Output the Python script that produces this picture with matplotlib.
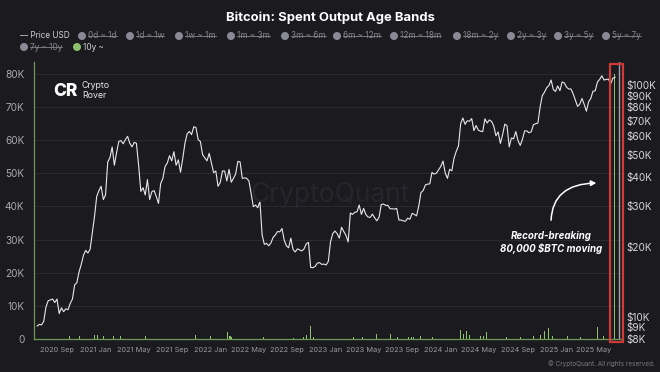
import matplotlib
matplotlib.use("Agg")
import matplotlib.pyplot as plt
from matplotlib.patches import Rectangle, Ellipse, FancyArrowPatch
from matplotlib.lines import Line2D
from matplotlib.ticker import NullLocator
import pandas as pd

plt.rcParams['font.family'] = ['Inter', 'DejaVu Sans']

# ---------------- data ----------------
price_start = "2020-06-29"   # weekly closes
price_usd = [
    9100, 9250, 9200, 9550, 11000, 11700, 11800, 11900, 11500, 11900,
    10300, 10900, 10500, 10800, 10700, 11400, 11900, 13700, 14000, 15600,
    16800, 18400, 19300, 18800, 19500, 23000, 27000,
    # 2021
    33000, 35000, 36500, 32000, 33500, 46500, 48500, 54000, 45000, 51000,
    57000, 57500, 55700, 58000, 60000, 56000, 54000, 56500, 56000, 45000,
    34700, 36000, 33500, 39000, 32000, 34600, 35000, 33000, 30800, 37500,
    39500, 44500, 46000, 49500, 47000, 51500, 45000, 47500, 42000, 48000,
    56000, 61500, 63000, 61000, 66000, 65500, 58000, 57000, 50000, 48500,
    47000, 50700,
    # 2022
    46000, 41800, 42500, 36500, 37900, 42500, 42500, 38500, 43200, 38000,
    39500, 41300, 46800, 46500, 39500, 39700, 39500, 38500, 34000, 29800,
    30300, 29500, 31400, 22500, 20500, 20700, 20200, 20800, 22000, 22500,
    23300, 23200, 24000, 21400, 20200, 19800, 21800, 19500, 19000, 19600,
    19400, 19200, 19600, 20600, 20900, 16300, 16250, 16450, 17000, 17100,
    16800, 16850,
    # 2023
    16700, 17300, 21000, 22800, 23400, 22800, 21800, 24300, 23300, 22400,
    21000, 28000, 27600, 28200, 28300, 30300, 27600, 29300, 27600, 26900,
    26800, 27700, 26700, 25900, 26800, 30500, 30600, 30200, 30200, 29200,
    29200, 29100, 29300, 26100, 26100, 25900, 25800, 26600, 26300, 27900,
    27600, 27200, 30000, 34300, 35000, 37000, 37300, 37400, 41900, 41200,
    41600, 43000,
    # 2024
    44500, 46900, 41700, 39500, 43200, 42600, 48300, 51700, 54500, 68000,
    72000, 67600, 70000, 69700, 71600, 63500, 66800, 63800, 63100, 62900,
    71400, 68500, 70600, 69600, 66500, 60300, 62700, 55900, 60900, 67700,
    66800, 54000, 59000, 58500, 62900, 57500, 54800, 58200, 63300, 63300,
    62100, 62800, 67300, 68000, 68400, 80000, 89900, 93000, 97300, 99400,
    105000, 95500, 93700,
    # 2025
    99000, 94500, 103000, 102000, 97800, 96000, 96100, 91500, 86000, 80800,
    82600, 87400, 82400, 77000, 84500, 87500, 94000, 94300, 103000, 105600,
    109500, 105000, 105600, 106000, 101000, 107000, 108000,
]

spend_dates = [
    "2020-10-11", "2020-11-09", "2020-12-29", "2021-01-05", "2021-01-08",
    "2021-01-24", "2021-02-25", "2021-03-22", "2021-06-09", "2021-11-12",
    "2021-12-30", "2022-02-22", "2022-03-03", "2022-03-09", "2022-06-16",
    "2022-09-19", "2022-10-21", "2022-11-02", "2022-11-12", "2022-11-22",
    "2023-03-29", "2023-04-29", "2023-06-10", "2023-07-24", "2023-08-15",
    "2023-09-19", "2023-09-29", "2023-10-05", "2023-10-27", "2023-12-07",
    "2024-03-02", "2024-03-12", "2024-03-24", "2024-03-31", "2024-05-05",
    "2024-05-14", "2024-05-24", "2024-07-29", "2024-09-09", "2024-10-20",
    "2024-11-11", "2024-11-24", "2024-12-07", "2024-12-22", "2025-02-05",
    "2025-03-18", "2025-05-11", "2025-05-30", "2025-07-04",
]
spend_10y_btc = [
    900, 1000, 1100, 1300, 1200,
    1000, 900, 800, 900, 1100,
    900, 2000, 1000, 700, 500,
    400, 600, 1200, 3800, 600,
    500, 600, 1500, 1400, 600,
    500, 700, 600, 800, 600,
    2600, 1500, 2400, 1300, 800,
    1000, 2200, 700, 600, 1000,
    1300, 2500, 3300, 1000, 800,
    600, 3600, 900, 80000,
]

x_tick_dates = ["2020-09-01", "2021-01-01", "2021-05-01", "2021-09-01",
                "2022-01-01", "2022-05-01", "2022-09-01", "2023-01-01",
                "2023-05-01", "2023-09-01", "2024-01-01", "2024-05-01",
                "2024-09-01", "2025-01-01", "2025-05-01"]
x_tick_labels = ["2020 Sep", "2021 Jan", "2021 May", "2021 Sep", "2022 Jan",
                 "2022 May", "2022 Sep", "2023 Jan", "2023 May", "2023 Sep",
                 "2024 Jan", "2024 May", "2024 Sep", "2025 Jan", "2025 May"]
left_ticks = [0, 10000, 20000, 30000, 40000, 50000, 60000, 70000, 80000]
left_tick_labels = ["0", "10K", "20K", "30K", "40K", "50K", "60K", "70K", "80K"]
right_ticks = [8000, 9000, 10000, 20000, 30000, 40000, 50000, 60000, 70000,
               80000, 90000, 100000]
right_tick_labels = ["$8K", "$9K", "$10K", "$20K", "$30K", "$40K", "$50K",
                     "$60K", "$70K", "$80K", "$90K", "$100K"]

legend_row1 = ["0d ~ 1d", "1d ~ 1w", "1w ~ 1m", "1m ~ 3m", "3m ~ 6m",
               "6m ~ 12m", "12m ~ 18m", "18m ~ 2y", "2y ~ 3y", "3y ~ 5y",
               "5y ~ 7y"]
legend_row2 = ["7y ~ 10y"]
active_label = "10y ~"

# ---------------- layout / style ----------------
BG = "#1a1a1f"
GREEN = "#8cc06c"
AXGREEN = "#6f9a55"
GRID = "#2a2a30"
W, H = 660, 372
legend_row1_x = [82, 130, 179, 231, 285, 337, 394, 457, 511, 558, 606]
legend_row2_x = [24]
active_x = 77


def fx(x):
    return x / W


def fy(y):
    return 1 - y / H


fig = plt.figure(figsize=(W / 100, H / 100), dpi=100, facecolor=BG)
ax = fig.add_axes([fx(34), fy(339), (622 - 34) / W, (339 - 62) / H])
ax.set_facecolor(BG)

price_dates = pd.date_range(price_start, periods=len(price_usd), freq="7D")
sd = pd.to_datetime(spend_dates)

ax.bar(sd, spend_10y_btc, width=3.2, color=GREEN, zorder=3, linewidth=0)
ax.set_ylim(0, 83600)
ax.set_yticks(left_ticks)
ax.set_yticklabels(left_tick_labels)
ax.grid(axis="y", color=GRID, lw=0.7)
ax.set_axisbelow(True)

ax.set_xlim(pd.Timestamp("2020-06-19"), pd.Timestamp("2025-07-29"))
ax.set_xticks(pd.to_datetime(x_tick_dates))
ax.set_xticklabels(x_tick_labels)

for s in ["top", "right"]:
    ax.spines[s].set_visible(False)
for s in ["left", "bottom"]:
    ax.spines[s].set_color(AXGREEN)
    ax.spines[s].set_linewidth(0.9)
ax.tick_params(axis="y", length=0, pad=7, labelsize=7.2, labelcolor="#a8a8ae")
ax.tick_params(axis="x", length=0, pad=6, labelsize=5.3, labelcolor="#9a9aa0")

ax2 = ax.twinx()
ax2.plot(price_dates, price_usd, color="#e8e8e8", lw=0.8, zorder=4)
ax2.set_yscale("log")
ax2.set_ylim(8000, 125600)
ax2.set_yticks(right_ticks)
ax2.set_yticklabels(right_tick_labels)
ax2.yaxis.set_minor_locator(NullLocator())
ax2.tick_params(axis="y", length=0, pad=3, labelsize=7.2, labelcolor="#d6d6da")
for s in ax2.spines.values():
    s.set_visible(False)

# crosshair-like gray line
ax2.axvline(pd.Timestamp("2025-07-20"), color="#a0a0ac", lw=1.0, zorder=5)

# red highlight box
fig.patches.append(Rectangle((fx(610), fy(342)), (623 - 610) / W, (342 - 64) / H,
                             transform=fig.transFigure, fill=False,
                             edgecolor="#d23a3a", lw=1.6, zorder=10))

# watermark
fig.text(fx(330), fy(195), "CryptoQuant", color="#25252b", fontsize=19,
         ha="center", va="center", zorder=0)

# logo
fig.text(fx(53), fy(91), "CR", color="white", fontsize=12.5, fontweight="heavy",
         ha="left", va="center")
fig.text(fx(82), fy(86), "Crypto", color="#e8e8e8", fontsize=6.3, ha="left", va="center")
fig.text(fx(82), fy(96), "Rover", color="#e8e8e8", fontsize=6.3, ha="left", va="center")

# annotation
fig.text(fx(551), fy(236), "Record-breaking", color="white", fontsize=7,
         fontweight="bold", fontstyle="italic", ha="center", va="center")
fig.text(fx(551), fy(248), "80,000 $BTC moving", color="white", fontsize=7,
         fontweight="bold", fontstyle="italic", ha="center", va="center")
fig.patches.append(FancyArrowPatch(
    (fx(551), fy(223)), (fx(599), fy(183)), transform=fig.transFigure,
    connectionstyle="angle3,angleA=90,angleB=0",
    arrowstyle="-|>,head_length=3,head_width=1.6",
    color="white", lw=1.1, zorder=10))

# title
fig.text(fx(330), fy(18), "Bitcoin: Spent Output Age Bands", color="white",
         fontsize=9.4, fontweight="bold", ha="center", va="center")

# copyright
fig.text(fx(655), fy(364), "© CryptoQuant. All rights reserved.", color="#7a7a80",
         fontsize=4.6, ha="right", va="center")

# legend
fig.canvas.draw()
renderer = fig.canvas.get_renderer()
LEG_FS = 5.9
fig.text(fx(20), fy(36), "— Price USD", color="#d0d0d4", fontsize=LEG_FS,
         ha="left", va="center")


def legend_item(xc, yc, label, active=False):
    col = GREEN if active else "#8a8a96"
    fig.patches.append(Ellipse((fx(xc), fy(yc)), 8 / W, 8 / H,
                               transform=fig.transFigure,
                               facecolor=col, edgecolor="none"))
    tcol = "#d0d0d4" if active else "#85858d"
    t = fig.text(fx(xc + 6), fy(yc), label, color=tcol,
                 fontsize=LEG_FS, ha="left", va="center")
    w = t.get_window_extent(renderer).width
    if not active:
        fig.add_artist(Line2D([fx(xc + 6), fx(xc + 6 + w)], [fy(yc), fy(yc)],
                              transform=fig.transFigure, color=tcol, lw=0.6))


for lab, xc in zip(legend_row1, legend_row1_x):
    legend_item(xc, 36, lab)
for lab, xc in zip(legend_row2, legend_row2_x):
    legend_item(xc, 47, lab)
legend_item(active_x, 47, active_label, active=True)

fig.savefig("out.png", dpi=100, facecolor=BG)
